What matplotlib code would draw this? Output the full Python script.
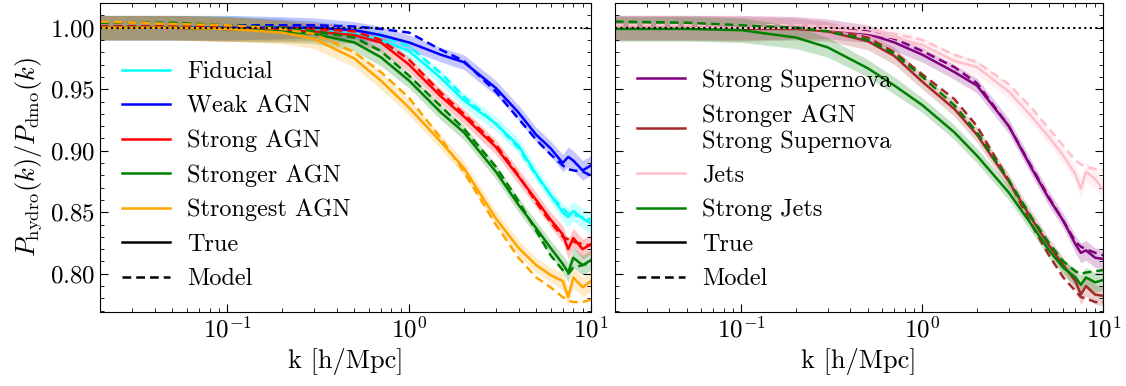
import numpy as np
import matplotlib
matplotlib.use("Agg")
import matplotlib.pyplot as plt

plt.rcParams['font.family'] = ['cmr10', 'DejaVu Serif']
plt.rcParams['mathtext.fontset'] = 'cm'
plt.rcParams['axes.formatter.use_mathtext'] = True
plt.rcParams['axes.unicode_minus'] = False

# k bins [h/Mpc]
k = [0.02, 0.05, 0.1, 0.2, 0.3, 0.5, 0.7, 1.0, 1.5, 2.0, 3.0, 4.0, 5.0, 6.0, 7.0, 7.5, 8.0, 9.0, 10.0]
# half width of the shaded band
err = [0.010, 0.010, 0.010, 0.009, 0.008, 0.007, 0.007, 0.006, 0.006, 0.006,
       0.006, 0.006, 0.006, 0.006, 0.007, 0.008, 0.008, 0.008, 0.008]

# left panel
fid_true = [1.000, 1.000, 1.000, 0.999, 0.998, 0.995, 0.990, 0.981, 0.959, 0.941, 0.922, 0.904, 0.881, 0.864, 0.850, 0.846, 0.851, 0.845, 0.841]
fid_model = [1.001, 1.001, 1.001, 1.000, 0.999, 0.997, 0.993, 0.985, 0.963, 0.944, 0.922, 0.902, 0.880, 0.864, 0.853, 0.849, 0.848, 0.846, 0.844]
weak_true = [1.000, 1.000, 1.000, 1.000, 1.000, 0.998, 0.994, 0.988, 0.978, 0.972, 0.951, 0.931, 0.913, 0.902, 0.890, 0.895, 0.892, 0.884, 0.888]
weak_model = [1.001, 1.001, 1.002, 1.002, 1.002, 1.001, 0.999, 0.996, 0.982, 0.973, 0.948, 0.926, 0.909, 0.897, 0.888, 0.885, 0.884, 0.883, 0.880]
strong_true = [1.000, 1.000, 0.999, 0.998, 0.997, 0.994, 0.988, 0.970, 0.944, 0.928, 0.903, 0.879, 0.860, 0.844, 0.832, 0.820, 0.829, 0.820, 0.824]
strong_model = [1.001, 1.001, 1.001, 1.000, 0.999, 0.997, 0.990, 0.974, 0.947, 0.930, 0.905, 0.880, 0.858, 0.842, 0.830, 0.828, 0.826, 0.824, 0.823]
stronger_true = [1.000, 1.000, 0.999, 0.997, 0.995, 0.988, 0.976, 0.957, 0.931, 0.915, 0.883, 0.856, 0.837, 0.821, 0.808, 0.801, 0.813, 0.807, 0.811]
stronger_model = [1.004, 1.004, 1.002, 1.000, 0.997, 0.992, 0.981, 0.961, 0.936, 0.918, 0.887, 0.859, 0.835, 0.815, 0.803, 0.800, 0.805, 0.807, 0.809]
strongest_true = [1.000, 1.000, 0.999, 0.996, 0.991, 0.975, 0.957, 0.935, 0.907, 0.886, 0.845, 0.821, 0.807, 0.799, 0.794, 0.781, 0.797, 0.789, 0.794]
strongest_model = [1.005, 1.003, 1.002, 0.999, 0.995, 0.980, 0.964, 0.943, 0.910, 0.883, 0.840, 0.813, 0.797, 0.789, 0.781, 0.778, 0.777, 0.777, 0.779]

# right panel
sn_true = [1.000, 1.000, 1.000, 1.000, 0.999, 0.995, 0.988, 0.978, 0.964, 0.953, 0.920, 0.886, 0.861, 0.843, 0.824, 0.817, 0.819, 0.813, 0.812]
sn_model = [1.001, 1.001, 1.001, 1.001, 1.000, 0.997, 0.991, 0.981, 0.968, 0.955, 0.920, 0.887, 0.862, 0.843, 0.826, 0.822, 0.820, 0.817, 0.815]
agnsn_true = [1.000, 1.000, 0.999, 0.999, 0.997, 0.989, 0.977, 0.956, 0.934, 0.913, 0.875, 0.845, 0.823, 0.807, 0.794, 0.783, 0.790, 0.783, 0.782]
agnsn_model = [1.001, 1.001, 1.001, 1.000, 0.999, 0.992, 0.980, 0.962, 0.942, 0.920, 0.876, 0.840, 0.815, 0.797, 0.786, 0.781, 0.780, 0.777, 0.777]
jets_true = [1.000, 1.000, 1.000, 1.000, 0.999, 0.996, 0.992, 0.986, 0.973, 0.968, 0.948, 0.928, 0.911, 0.896, 0.881, 0.869, 0.883, 0.877, 0.868]
jets_model = [1.002, 1.002, 1.002, 1.002, 1.001, 0.999, 0.995, 0.990, 0.978, 0.972, 0.954, 0.935, 0.918, 0.904, 0.892, 0.889, 0.887, 0.885, 0.884]
sjets_true = [0.999, 0.999, 0.998, 0.992, 0.984, 0.967, 0.953, 0.937, 0.915, 0.896, 0.866, 0.840, 0.819, 0.805, 0.797, 0.791, 0.797, 0.793, 0.795]
sjets_model = [1.005, 1.004, 1.002, 1.000, 0.997, 0.990, 0.979, 0.960, 0.937, 0.915, 0.876, 0.846, 0.825, 0.810, 0.802, 0.800, 0.801, 0.802, 0.803]

left_runs = [("Fiducial", "cyan", fid_true, fid_model),
             ("Weak AGN", "blue", weak_true, weak_model),
             ("Strong AGN", "red", strong_true, strong_model),
             ("Stronger AGN", "green", stronger_true, stronger_model),
             ("Strongest AGN", "orange", strongest_true, strongest_model)]
right_runs = [("Strong Supernova", "purple", sn_true, sn_model),
              ("Stronger AGN\nStrong Supernova", "brown", agnsn_true, agnsn_model),
              ("Jets", "pink", jets_true, jets_model),
              ("Strong Jets", "green", sjets_true, sjets_model)]

fig = plt.figure(figsize=(11.26, 3.86), dpi=100)
ax1 = fig.add_axes([0.0888, 0.192, 0.436, 0.800])
ax2 = fig.add_axes([0.546, 0.192, 0.434, 0.800], sharey=ax1)


def draw(ax, runs):
    kk = np.array(k)
    e = np.array(err)
    for name, col, tr, mo in runs:
        tr = np.array(tr)
        ax.fill_between(kk, tr - e, tr + e, color=col, alpha=0.22, lw=0)
        ax.plot(kk, tr, color=col, lw=1.8, label=name)
        ax.plot(kk, mo, color=col, lw=1.8, ls='--', dashes=(3.5, 2))
    ax.axhline(1.0, color='k', ls=':', lw=1.5)
    ax.plot([], [], color='k', lw=1.8, label='True')
    ax.plot([], [], color='k', lw=1.8, ls='--', dashes=(3.5, 2), label='Model')
    ax.set_xscale('log')
    ax.set_xlim(0.02, 10)
    ax.set_xlabel('k [h/Mpc]', fontsize=19)
    ax.tick_params(which='both', direction='in', top=True, right=True, labelsize=18)
    ax.tick_params(which='major', length=6)
    ax.tick_params(which='minor', length=3)
    ax.legend(loc='lower left', bbox_to_anchor=(0.0, 0.0), frameon=False,
              fontsize=17.5, handlelength=2.0, handletextpad=0.7, labelspacing=0.5)


draw(ax1, left_runs)
draw(ax2, right_runs)
ax1.set_ylim(0.769, 1.02)
ax1.set_yticks([0.80, 0.85, 0.90, 0.95, 1.00])
ax1.set_yticks(np.arange(0.77, 1.021, 0.01), minor=True)
ax1.set_ylabel(r'$P_{\rm hydro}(k)/P_{\rm dmo}(k)$', fontsize=19)
plt.setp(ax2.get_yticklabels(), visible=False)

fig.savefig('out.png', dpi=100)
